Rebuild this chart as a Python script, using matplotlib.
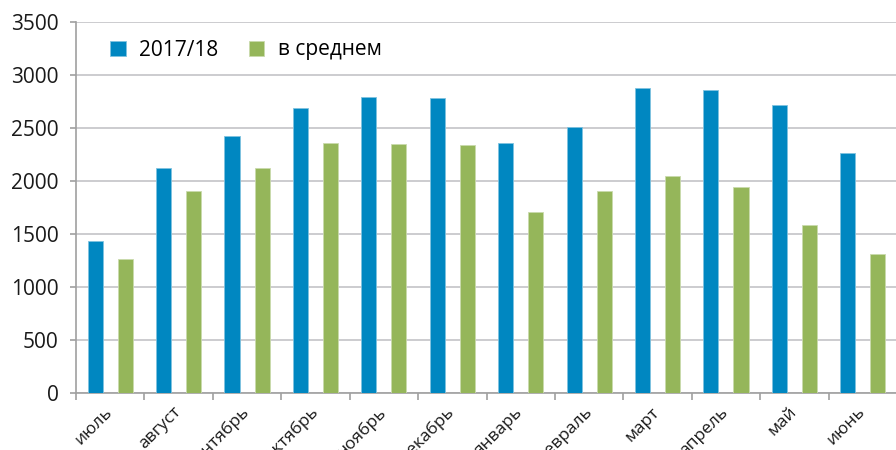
import numpy as np
import matplotlib.pyplot as plt
from matplotlib.ticker import MultipleLocator, FixedLocator

plt.rcParams['font.family'] = ['Open Sans', 'DejaVu Sans']

# месяцы сезона
months = ['июль', 'август', 'сентябрь', 'октябрь', 'ноябрь', 'декабрь',
          'январь', 'февраль', 'март', 'апрель', 'май', 'июнь']
# значения сезона 2017/18
season_2017 = [1430, 2120, 2420, 2690, 2795, 2780, 2360, 2510, 2880, 2860, 2720, 2260]
# средние многолетние значения
average = [1260, 1905, 2120, 2360, 2350, 2340, 1710, 1905, 2050, 1940, 1585, 1310]

blue = '#0087c1'
green = '#95b65a'
grid_col = '#c8c8cc'
axis_col = '#a0a0a0'

fig = plt.figure(figsize=(8.96, 4.5), dpi=100)
ax = fig.add_axes([76/896, 1-393/450, 821/896, 371/450])

x = np.arange(len(months))
w = 0.22
ax.bar(x - 0.22, season_2017, width=w, color=blue, edgecolor='#7fc3e0', linewidth=0.6, label='2017/18', zorder=3)
ax.bar(x + 0.22, average, width=w, color=green, edgecolor='#cadaad', linewidth=0.6, label='в среднем', zorder=3)

ax.set_xlim(-0.5, len(months) - 0.5)
ax.set_ylim(0, 3500)
ax.yaxis.set_major_locator(MultipleLocator(500))
ax.grid(axis='y', color=grid_col, linewidth=1.3, zorder=0)

for s in ['top', 'right']:
    ax.spines[s].set_visible(False)
ax.spines['left'].set_color(axis_col)
ax.spines['bottom'].set_color(axis_col)
ax.spines['left'].set_linewidth(1.2)
ax.spines['bottom'].set_linewidth(1.2)

ax.tick_params(axis='y', length=4.5, color=axis_col, width=1.2, pad=8, labelsize=15, labelcolor='#1a1a1a')

# подписи месяцев по центру, засечки на границах категорий
ax.set_xticks(x)
ax.set_xticklabels(months, rotation=45, ha='right', va='center', rotation_mode='anchor',
                   fontsize=12.5, color='#1a1a1a')
ax.tick_params(axis='x', which='major', length=0, pad=12)
ax.xaxis.set_minor_locator(FixedLocator(np.arange(-0.5, len(months), 1.0)))
ax.tick_params(axis='x', which='minor', length=5, color=axis_col, width=1.2)

ax.legend(loc='center left', bbox_to_anchor=(110/896, 1-50/450), bbox_transform=fig.transFigure,
          ncol=2, frameon=False, fontsize=15, handlelength=0.75, handleheight=0.75,
          handletextpad=0.65, columnspacing=1.45, borderpad=0, borderaxespad=0)

fig.savefig('out.png', dpi=100)
plt.close(fig)
